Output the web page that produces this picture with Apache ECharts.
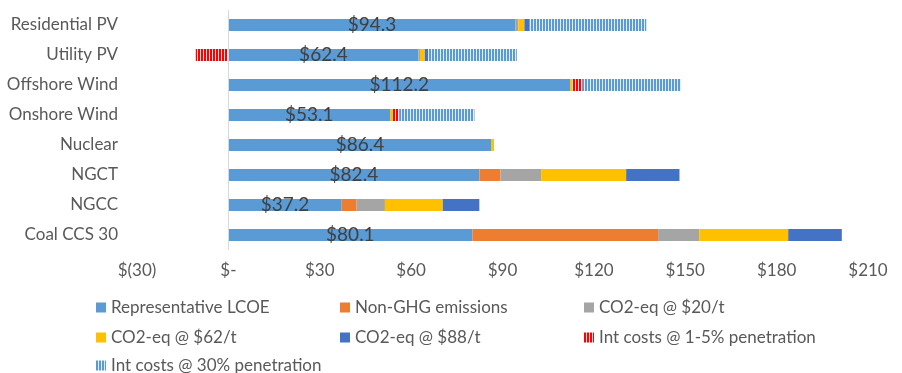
<!DOCTYPE html>
<html>
<head>
<meta charset="utf-8">
<script src="https://cdn.jsdelivr.net/npm/echarts@6/dist/echarts.min.js"></script>
<style>
  html, body { margin: 0; padding: 0; background: #fff; }
  #chart { width: 902px; height: 373px; }
</style>
</head>
<body>
<div id="chart"></div>
<script>
// categories, top to bottom
const categories = ["Residential PV", "Utility PV", "Offshore Wind", "Onshore Wind", "Nuclear", "NGCT", "NGCC", "Coal CCS 30"];

// $/MWh components
const lcoe = [94.3, 62.4, 112.2, 53.1, 86.4, 82.4, 37.2, 80.1];
const nonGhg = [0, 0, 0, 0, 0, 6.9, 4.9, 61.0];
const co2At20 = [0.9, 0.5, 0, 0, 0, 13.4, 9.3, 13.5];
const co2At62 = [2.0, 1.6, 0.8, 0.9, 0.8, 27.9, 19.0, 29.2];
const co2At88 = [1.7, 1.1, 0, 0, 0, 17.5, 12.0, 17.6];
const intLow = [0, -10.7, 3.3, 2.1, 0, 0, 0, 0];
const intHigh = [38.3, 29.1, 32.3, 24.7, 0, 0, 0, 0];

const xTicks = [-30, 0, 30, 60, 90, 120, 150, 180, 210];
const xTickLabels = ["$(30)", "$-", "$30", "$60", "$90", "$120", "$150", "$180", "$210"];

const FONT = "Lato";
const TEXT = "#595959";

function stripes(color, gap) {
  const c = document.createElement("canvas");
  c.width = 3;
  c.height = 4;
  const ctx = c.getContext("2d");
  ctx.fillStyle = gap;
  ctx.fillRect(0, 0, 3, 4);
  ctx.fillStyle = color;
  ctx.fillRect(0, 0, 2, 4);
  return { image: c, repeat: "repeat" };
}

const seriesDefs = [
  { name: "Representative LCOE", data: lcoe, color: "#5B9BD5" },
  { name: "Non-GHG emissions", data: nonGhg, color: "#ED7D31" },
  { name: "CO2-eq @ $20/t", data: co2At20, color: "#A5A5A5" },
  { name: "CO2-eq @ $62/t", data: co2At62, color: "#FFC000" },
  { name: "CO2-eq @ $88/t", data: co2At88, color: "#4472C4" },
  { name: "Int costs @ 1-5% penetration", data: intLow, color: stripes("#FF0000", "#ffe5e5") },
  { name: "Int costs @ 30% penetration", data: intHigh, color: stripes("#5B9BD5", "#e3eef8") }
];

// legend slots: [left, top]
const legendPos = [[91, 294], [335, 294], [579, 294], [91, 324], [335, 324], [579, 324], [91, 352]];

const series = seriesDefs.map((s, i) => {
  const out = {
    name: s.name,
    type: "bar",
    stack: "total",
    barWidth: 12,
    data: s.data,
    itemStyle: { color: s.color },
    emphasis: { disabled: true }
  };
  if (i === 0) {
    out.label = {
      show: true,
      position: "inside",
      formatter: p => "$" + p.value.toFixed(1),
      fontFamily: FONT,
      fontSize: 19,
      color: "#404040"
    };
    out.markLine = {
      silent: true,
      symbol: ["none", "none"],
      label: { show: false },
      lineStyle: { color: "#d9d9d9", type: "solid", width: 1 },
      data: [{ xAxis: 0 }]
    };
  }
  return out;
});

const chart = echarts.init(document.getElementById("chart"));
chart.setOption({
  animation: false,
  grid: { left: 137, right: 34, top: 10, bottom: 123, outerBoundsMode: "none" },
  legend: seriesDefs.map((s, i) => ({
    data: [s.name],
    left: legendPos[i][0],
    top: legendPos[i][1],
    icon: "rect",
    itemWidth: 10,
    itemHeight: 10,
    selectedMode: false,
    textStyle: { fontFamily: FONT, fontSize: 17, color: TEXT }
  })),
  xAxis: {
    type: "value",
    min: xTicks[0],
    max: xTicks[xTicks.length - 1],
    interval: 30,
    splitLine: { show: false },
    axisLine: { show: false },
    axisTick: { show: false },
    axisLabel: {
      margin: 12,
      fontFamily: FONT,
      fontSize: 17,
      color: TEXT,
      formatter: v => xTickLabels[xTicks.indexOf(v)]
    }
  },
  yAxis: {
    type: "category",
    data: categories,
    inverse: true,
    axisLine: { show: false, onZero: false },
    axisTick: { show: false },
    axisLabel: { margin: 19, fontFamily: FONT, fontSize: 17, color: TEXT }
  },
  series: series
});
</script>
</body>
</html>
